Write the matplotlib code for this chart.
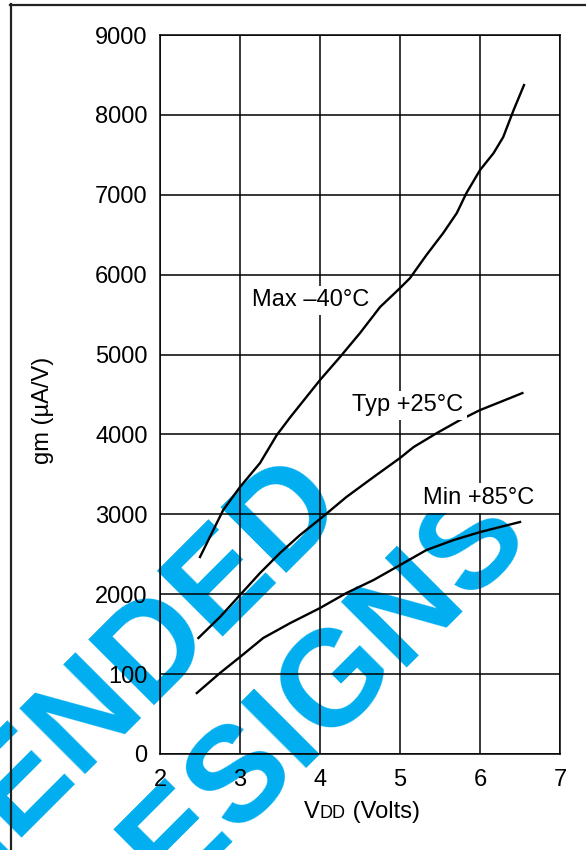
import numpy as np
import matplotlib
matplotlib.use('Agg')
import matplotlib.pyplot as plt
from matplotlib.lines import Line2D
from matplotlib.offsetbox import TextArea, HPacker, AnnotationBbox

plt.rcParams['font.family'] = ['Liberation Sans', 'DejaVu Sans']

# Max -40 C
v_max = [2.5, 2.79, 3.0, 3.25, 3.46, 3.63, 4.0, 4.25, 4.5, 4.75, 5.0, 5.125, 5.33, 5.54, 5.71, 5.83, 6.0, 6.17, 6.29, 6.42, 6.55]
gm_max = [2466, 3054, 3342, 3642, 3993, 4218, 4681, 4969, 5269, 5594, 5832, 5957, 6245, 6521, 6771, 7021, 7309, 7522, 7722, 8060, 8373]
# Typ +25 C
v_typ = [2.48, 2.75, 3.0, 3.25, 3.5, 3.75, 4.03, 4.33, 4.67, 5.0, 5.17, 5.46, 5.75, 6.0, 6.25, 6.53]
gm_typ = [1452, 1715, 1990, 2265, 2516, 2741, 2966, 3217, 3467, 3705, 3842, 4017, 4180, 4305, 4405, 4518]
# Min +85 C
v_min = [2.46, 2.75, 3.0, 3.29, 3.63, 4.0, 4.33, 4.67, 5.0, 5.33, 5.67, 6.0, 6.25, 6.5]
gm_min = [763, 1014, 1214, 1452, 1640, 1827, 2015, 2178, 2365, 2553, 2678, 2778, 2841, 2904]

xticks = [2, 3, 4, 5, 6, 7]
yticks = [0, 1000, 2000, 3000, 4000, 5000, 6000, 7000, 8000, 9000]
ylabels = ['0', '100', '2000', '3000', '4000', '5000', '6000', '7000', '8000', '9000']

fig = plt.figure(figsize=(5.86, 8.5), dpi=100)
ax = fig.add_axes([160/586, 96/850, 400/586, 719/850])
ax.patch.set_visible(False)

# watermark
wm = dict(color='#00AEEF', fontsize=97, fontweight='bold', rotation=45,
          rotation_mode='anchor', ha='right', va='center', zorder=-5)
fig.text(325/586, 1-485/850, 'NOT RECOMMENDED', **wm)
fig.text(509/586, 1-516/850, 'FOR NEW DESIGNS', **wm)

ax.plot(v_max, gm_max, 'k-', lw=1.7, zorder=3)
ax.plot(v_typ, gm_typ, 'k-', lw=1.7, zorder=3)
ax.plot(v_min, gm_min, 'k-', lw=1.7, zorder=3)

ax.set_xlim(2, 7)
ax.set_ylim(0, 9000)
ax.set_xticks(xticks)
ax.set_yticks(yticks)
ax.set_yticklabels(ylabels)
ax.grid(True, color='k', lw=1.1)
ax.set_axisbelow(False)
for s in ax.spines.values():
	s.set_linewidth(1.1)
ax.tick_params(length=0, labelsize=17, pad=9)
ax.tick_params(axis='x', pad=11)

bb = dict(facecolor='white', edgecolor='none', pad=2.5)
ax.text(3.15, 5682, 'Max \u201340\u00b0C', fontsize=17, ha='left', va='center', bbox=bb, zorder=4)
ax.text(4.4, 4368, 'Typ +25\u00b0C', fontsize=17, ha='left', va='center', bbox=bb, zorder=4)
ax.text(5.29, 3204, 'Min +85\u00b0C', fontsize=17, ha='left', va='center', bbox=bb, zorder=4)

fig.text(43/586, 1-410/850, 'gm (\u00b5A/V)', fontsize=17, rotation=90, ha='center', va='center')

parts = [TextArea('V', textprops=dict(fontsize=17)),
         TextArea('DD', textprops=dict(fontsize=13)),
         TextArea(' (Volts)', textprops=dict(fontsize=17))]
box = HPacker(children=parts, align='baseline', pad=0, sep=0)
ab = AnnotationBbox(box, (362/586, 1-812/850), xycoords='figure fraction', frameon=False, box_alignment=(0.5, 0.5))
fig.add_artist(ab)

# frame
fig.add_artist(Line2D([10.5/586, 10.5/586], [0, 1-4/850], color='#222222', lw=1.6))
fig.add_artist(Line2D([10/586, 1], [1-4.5/850, 1-4.5/850], color='#222222', lw=1.6))

plt.savefig('out.png', dpi=100)
